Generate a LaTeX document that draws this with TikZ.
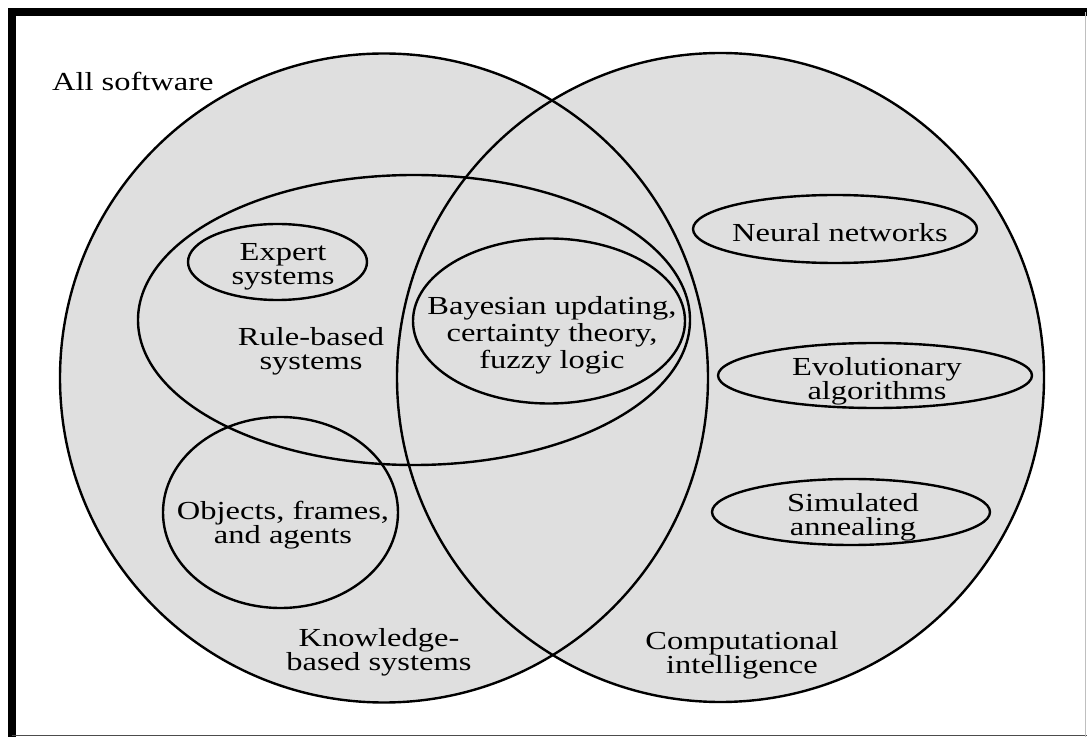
\documentclass[tikz,border=0pt]{standalone}
\usepackage{fontspec}
\setmainfont[FakeStretch=1.25]{Liberation Serif}
\usetikzlibrary{shapes.geometric}
\definecolor{setgray}{RGB}{223,223,223}

\begin{document}
\begin{tikzpicture}[x=0.5pt,y=-0.5pt,
	every node/.style={font=\fontsize{13}{12}\selectfont, align=center},
	setline/.style={ellipse, draw, line width=1.2pt, inner sep=0pt}]
	\useasboundingbox (0,0) rectangle (1087,737);
	% frame
	\draw[line width=4pt] (11.5,737) |- (1087,12.5);
	\draw[line width=0.6pt, black!70] (11.5,735.5) -- (1087,735.5);
	\draw[line width=0.6pt, black!25] (1085.5,12.5) -- (1085.5,737);
	% the two large sets
	\fill[setgray] (384,378) circle[x radius=324, y radius=324.5];
	\fill[setgray] (720.5,377.5) circle[x radius=323.5, y radius=324.5];
	\node[setline, minimum width=324pt, minimum height=324.5pt](kbs) at (384,378){};
	\node[setline, minimum width=323.5pt, minimum height=324.5pt](ci) at (720.5,377.5){};
	% subsets
	\node[setline, minimum width=276pt, minimum height=145pt](rules) at (414,320){};
	\node[setline, minimum width=89.5pt, minimum height=38pt](expert) at (277.5,262){};
	\node[setline, minimum width=136pt, minimum height=82.5pt](bayes) at (549,321){};
	\node[setline, minimum width=117.5pt, minimum height=95.5pt](objects) at (280.5,512.5){};
	\node[setline, minimum width=142pt, minimum height=34pt](neural) at (835,229){};
	\node[setline, minimum width=157pt, minimum height=32.5pt](evol) at (875,375.5){};
	\node[setline, minimum width=139pt, minimum height=33pt](anneal) at (851,512){};
	% labels
	\node[anchor=west](all) at (45,81){All software};
	\node(expert-label) at (283,267){Expert\\systems};
	\node[font=\fontsize{13}{13.5}\selectfont](bayes-label) at (552,335){Bayesian updating,\\certainty theory,\\fuzzy logic};
	\node(objects-label) at (283,525){Objects, frames,\\and agents};
	\node(neural-label) at (840,233){Neural networks};
	\node(evol-label) at (877,381){Evolutionary\\algorithms};
	\node(anneal-label) at (853,517){Simulated\\annealing};
	\node(rules-label) at (311,351){Rule-based\\systems};
	\node(kbs-label) at (379,652){Knowledge-\\based systems};
	\node(ci-label) at (742,655){Computational\\intelligence};
\end{tikzpicture}
\end{document}
